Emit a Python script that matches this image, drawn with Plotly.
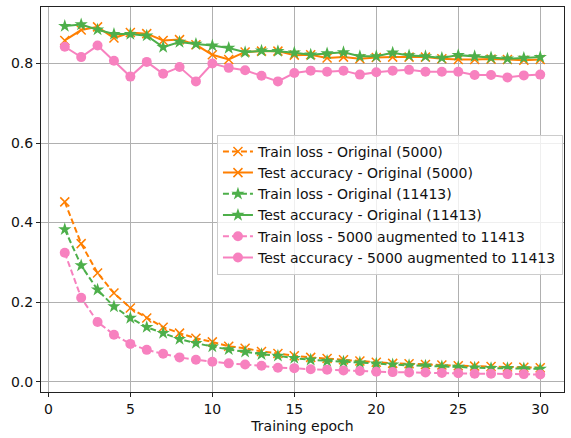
import plotly.graph_objects as go

epochs = list(range(1, 31))

train_loss_5000 = [0.452, 0.347, 0.273, 0.223, 0.185, 0.160, 0.137, 0.122, 0.109, 0.100,
                   0.089, 0.084, 0.076, 0.071, 0.065, 0.061, 0.058, 0.055, 0.052, 0.049,
                   0.046, 0.045, 0.043, 0.042, 0.040, 0.039, 0.038, 0.037, 0.036, 0.035]
test_acc_5000 = [0.858, 0.884, 0.892, 0.864, 0.878, 0.875, 0.858, 0.860, 0.847, 0.822,
                 0.810, 0.829, 0.831, 0.831, 0.821, 0.822, 0.814, 0.816, 0.812, 0.815,
                 0.816, 0.816, 0.816, 0.812, 0.810, 0.810, 0.811, 0.810, 0.808, 0.810]
train_loss_11413 = [0.383, 0.292, 0.231, 0.189, 0.160, 0.137, 0.122, 0.107, 0.097, 0.088,
                    0.081, 0.075, 0.069, 0.065, 0.059, 0.055, 0.052, 0.050, 0.048, 0.045,
                    0.043, 0.041, 0.040, 0.038, 0.037, 0.035, 0.034, 0.034, 0.033, 0.032]
test_acc_11413 = [0.894, 0.898, 0.885, 0.874, 0.874, 0.870, 0.841, 0.854, 0.849, 0.845,
                  0.839, 0.828, 0.832, 0.831, 0.827, 0.822, 0.825, 0.828, 0.818, 0.818,
                  0.827, 0.820, 0.818, 0.814, 0.821, 0.818, 0.815, 0.812, 0.814, 0.816]
train_loss_aug = [0.324, 0.211, 0.150, 0.118, 0.095, 0.080, 0.070, 0.061, 0.055, 0.050,
                  0.046, 0.043, 0.040, 0.035, 0.034, 0.031, 0.030, 0.028, 0.027, 0.025,
                  0.024, 0.023, 0.023, 0.022, 0.021, 0.020, 0.020, 0.019, 0.019, 0.018]
test_acc_aug = [0.842, 0.816, 0.845, 0.807, 0.767, 0.804, 0.774, 0.791, 0.755, 0.800,
                0.789, 0.783, 0.769, 0.755, 0.776, 0.782, 0.779, 0.782, 0.772, 0.778,
                0.782, 0.784, 0.779, 0.779, 0.779, 0.771, 0.771, 0.765, 0.770, 0.772]

x_ticks = [0, 5, 10, 15, 20, 25, 30]
y_ticks = [0.0, 0.2, 0.4, 0.6, 0.8]

ORANGE = "#ff7f00"
GREEN = "#4daf4a"
PINK = "#f781bf"

series = [
    ("Train loss - Original (5000)", train_loss_5000, ORANGE, "dash", "x-thin", 9),
    ("Test accuracy - Original (5000)", test_acc_5000, ORANGE, "solid", "x-thin", 9),
    ("Train loss - Original (11413)", train_loss_11413, GREEN, "dash", "star", 10),
    ("Test accuracy - Original (11413)", test_acc_11413, GREEN, "solid", "star", 10),
    ("Train loss - 5000 augmented to 11413", train_loss_aug, PINK, "dash", "circle", 10),
    ("Test accuracy - 5000 augmented to 11413", test_acc_aug, PINK, "solid", "circle", 10),
]

fig = go.Figure()
for name, vals, color, dash, sym, size in series:
    marker = dict(symbol=sym, size=size, color=color)
    if sym == "x-thin":
        marker["line"] = dict(color=color, width=1.5)
    else:
        marker["line"] = dict(width=0)
    fig.add_trace(go.Scatter(
        x=epochs, y=vals, name=name, mode="lines+markers",
        line=dict(color=color, width=2, dash="6px,3px" if dash == "dash" else "solid"),
        marker=marker,
    ))

FONT = dict(family="DejaVu Sans", size=14, color="#111")

axis_common = dict(
    showgrid=True, gridcolor="#b0b0b0", gridwidth=0.8,
    showline=True, linecolor="#222", linewidth=1, mirror=True,
    ticks="outside", ticklen=4, tickcolor="#222", zeroline=False,
    tickfont=FONT, automargin=False,
)

fig.update_xaxes(range=[-0.45, 31.45], tickvals=x_ticks, ticktext=[str(t) for t in x_ticks],
                 title=dict(text="Training epoch", font=FONT, standoff=5),
                 **axis_common)
fig.update_yaxes(range=[-0.026, 0.942], tickvals=y_ticks, ticktext=[f"{t:.1f}" for t in y_ticks],
                 **axis_common)

fig.update_layout(
    width=571, height=438,
    margin=dict(l=41, r=7, t=7, b=46, autoexpand=False),
    paper_bgcolor="white", plot_bgcolor="white",
    font=FONT,
    showlegend=True,
    legend=dict(x=0.998, y=0.668, xanchor="right", yanchor="top",
                bgcolor="rgba(255,255,255,0.8)", bordercolor="#cccccc", borderwidth=1,
                font=FONT, itemwidth=30, tracegroupgap=0),
)

fig.write_html("out.html")
